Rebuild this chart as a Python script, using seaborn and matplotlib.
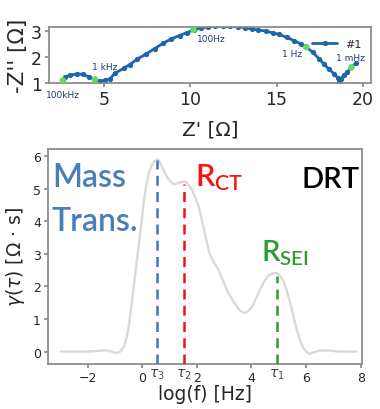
import matplotlib
matplotlib.use("Agg")
import matplotlib.pyplot as plt
import seaborn as sns
import pandas as pd

# ---------------- Nyquist data (top panel) ----------------
z_re = [2.62, 2.75, 3.04, 3.42, 3.81, 4.15, 4.48, 4.77, 5.06, 5.35, 5.63, 6.15,
        6.50, 6.92, 7.46, 7.94, 8.42, 8.90, 9.38, 9.81, 10.19, 10.60, 11.02,
        11.45, 11.88, 12.30, 12.75, 13.15, 13.55, 13.95, 14.38, 14.77, 15.15,
        15.58, 16.02, 16.40, 16.72, 17.10, 17.46, 17.75, 18.04, 18.33, 18.56,
        18.60, 18.71, 18.90, 19.10, 19.33, 19.58]
z_im = [1.10, 1.23, 1.30, 1.35, 1.33, 1.23, 1.14, 1.08, 1.10, 1.16, 1.37, 1.57,
        1.71, 1.91, 2.12, 2.32, 2.52, 2.69, 2.82, 2.93, 3.04, 3.10, 3.15,
        3.17, 3.17, 3.17, 3.16, 3.12, 3.07, 3.03, 2.99, 2.92, 2.86,
        2.75, 2.62, 2.50, 2.38, 2.17, 1.93, 1.72, 1.52, 1.36, 1.18,
        1.05, 1.15, 1.30, 1.42, 1.60, 1.76]
freq_re = [2.62, 4.48, 10.19, 16.72, 19.33]
freq_im = [1.10, 1.14, 3.04, 2.38, 1.60]
freq_labels = ["100kHz", "1 kHz", "100Hz", "1 Hz", "1 mHz"]
nyq_xticks = [5, 10, 15, 20]
nyq_yticks = [1, 2, 3]

# ---------------- DRT data (bottom panel) ----------------
drt_logf = [-2.97, -2.5, -2.0, -1.6, -1.35, -1.1, -0.95, -0.8, -0.65, -0.55,
            -0.47, -0.38, -0.29, -0.2, -0.11, -0.02, 0.07, 0.16, 0.25, 0.35,
            0.44, 0.53, 0.6, 0.74, 0.83, 0.92, 1.04, 1.16, 1.28, 1.41, 1.52,
            1.59, 1.7, 1.83, 1.95, 2.07, 2.25, 2.45, 2.62, 2.8, 2.98, 3.15,
            3.35, 3.55, 3.71, 3.85, 4.01, 4.15, 4.32, 4.47, 4.62, 4.78, 4.92,
            5.05, 5.16, 5.28, 5.41, 5.53, 5.65, 5.77, 5.89, 6.0, 6.13, 6.3,
            6.5, 6.86, 7.2, 7.83]
drt_gamma = [0.0, 0.0, 0.0, 0.02, 0.04, 0.0, -0.05, 0.0, 0.18, 0.5,
             0.9, 1.5, 2.13, 2.75, 3.36, 4.0, 4.68, 5.15, 5.5, 5.72,
             5.83, 5.9, 5.88, 5.65, 5.48, 5.35, 5.22, 5.14, 5.16, 5.2, 5.23,
             5.21, 5.12, 4.95, 4.72, 4.45, 3.8, 3.05, 2.74, 2.5, 2.13, 1.8,
             1.52, 1.28, 1.19, 1.22, 1.36, 1.6, 1.92, 2.16, 2.33, 2.4, 2.41,
             2.33, 2.18, 1.9, 1.52, 1.1, 0.7, 0.35, 0.13, 0.0, -0.07, -0.02,
             0.03, 0.03, 0.0, 0.0]
tau_logf = [0.53, 1.53, 4.92]
tau_gamma = [5.88, 5.15, 2.33]
tau_labels = [r"$\tau_3$", r"$\tau_2$", r"$\tau_1$"]
tau_colors = ["#4472c4", "#e8141e", "#2e9a35"]
drt_xticks = [-2, 0, 2, 4, 6, 8]
drt_yticks = [0, 1, 2, 3, 4, 5, 6]

sns.set_theme(style="ticks")
plt.rcParams["font.family"] = ["DejaVu Sans"]

fig = plt.figure(figsize=(3.8, 4.1), dpi=100)
ax1 = fig.add_axes([0.129, 0.795, 0.847, 0.137])
ax2 = fig.add_axes([0.126, 0.110, 0.827, 0.524])

spine_col = "#8a8a8a"

# ---------------- top: Nyquist ----------------
nyq = pd.DataFrame({"re": z_re, "im": z_im})
sns.lineplot(data=nyq, x="re", y="im", sort=False, estimator=None, ax=ax1,
             color="#1f64ad", lw=2.0, marker="o", markersize=3.8,
             markeredgewidth=0, label="#1")
sns.scatterplot(x=freq_re, y=freq_im, ax=ax1, color="#66dd55", s=22,
                edgecolor="none", zorder=5, legend=False)
offsets = [(0, -14), (10, 13), (18, -9), (-14, -7), (-1, 10)]
for xr, yi, lab, off in zip(freq_re, freq_im, freq_labels, offsets):
    ax1.annotate(lab, (xr, yi), xytext=off, textcoords="offset pixels",
                 ha="center", va="center", fontsize=6.5, color="#1f3a6e",
                 annotation_clip=False)
ax1.set_xlim(1.82, 20.46)
ax1.set_ylim(1.0, 3.15)
ax1.set_xticks(nyq_xticks)
ax1.set_yticks(nyq_yticks)
ax1.tick_params(labelsize=12.5, length=3, color=spine_col, pad=2)
ax1.set_xlabel("Z' [Ω]", fontsize=14.5, labelpad=8)
ax1.set_ylabel("-Z'' [Ω]", fontsize=15.5, labelpad=2)
for s in ax1.spines.values():
    s.set_color(spine_col)
leg = ax1.legend(loc="upper right", frameon=False, fontsize=8,
                 handlelength=2.2, borderaxespad=0.4, bbox_to_anchor=(1.0, 0.95))

# ---------------- bottom: DRT ----------------
sns.lineplot(x=drt_logf, y=drt_gamma, ax=ax2, color="#d9d9d9", lw=1.7,
             sort=False, estimator=None)
ax2.set_xlim(-3.45, 8.05)
ax2.set_ylim(-0.38, 6.22)
ybot = ax2.get_ylim()[0]
for xv, yv, c in zip(tau_logf, tau_gamma, tau_colors):
    ax2.vlines(xv, ybot, yv, colors=c, linestyles=(0, (4, 2.5)), lw=1.8, zorder=4)
ax2.set_xticks(drt_xticks)
ax2.set_yticks(drt_yticks)
ax2.set_xticks(tau_logf, labels=tau_labels, minor=True)
ax2.tick_params(which="major", labelsize=9, length=3, color=spine_col, pad=2)
ax2.tick_params(which="minor", axis="x", labelsize=10, length=0, pad=2,
                labelcolor="#444444")
ax2.set_xlabel("log(f) [Hz]", fontsize=13.5, labelpad=0)
ax2.set_ylabel(r"$\gamma(\tau)$ [Ω · s]", fontsize=13.5, labelpad=4)
for s in ax2.spines.values():
    s.set_color(spine_col)

tfont = ["Lato", "DejaVu Sans"]
ax2.text(-3.3, 5.08, "Mass", fontsize=23, color="#4a7ebb", family=tfont,
         weight="semibold", ha="left", va="baseline")
ax2.text(-3.3, 3.72, "Trans.", fontsize=23, color="#4a7ebb", family=tfont,
         weight="semibold", ha="left", va="baseline")
ax2.text(1.94, 5.1, r"$\mathregular{R_{CT}}$", fontsize=22, color="#ff1010",
         family=tfont, weight="semibold", ha="left", va="baseline")
ax2.text(7.94, 5.05, "DRT", fontsize=21, color="black", family=tfont,
         weight="semibold", ha="right", va="baseline")
ax2.text(4.36, 2.8, r"$\mathregular{R_{SEI}}$", fontsize=21, color="#339933",
         family=tfont, weight="semibold", ha="left", va="baseline")

fig.savefig("out.png", dpi=100, facecolor="white")
